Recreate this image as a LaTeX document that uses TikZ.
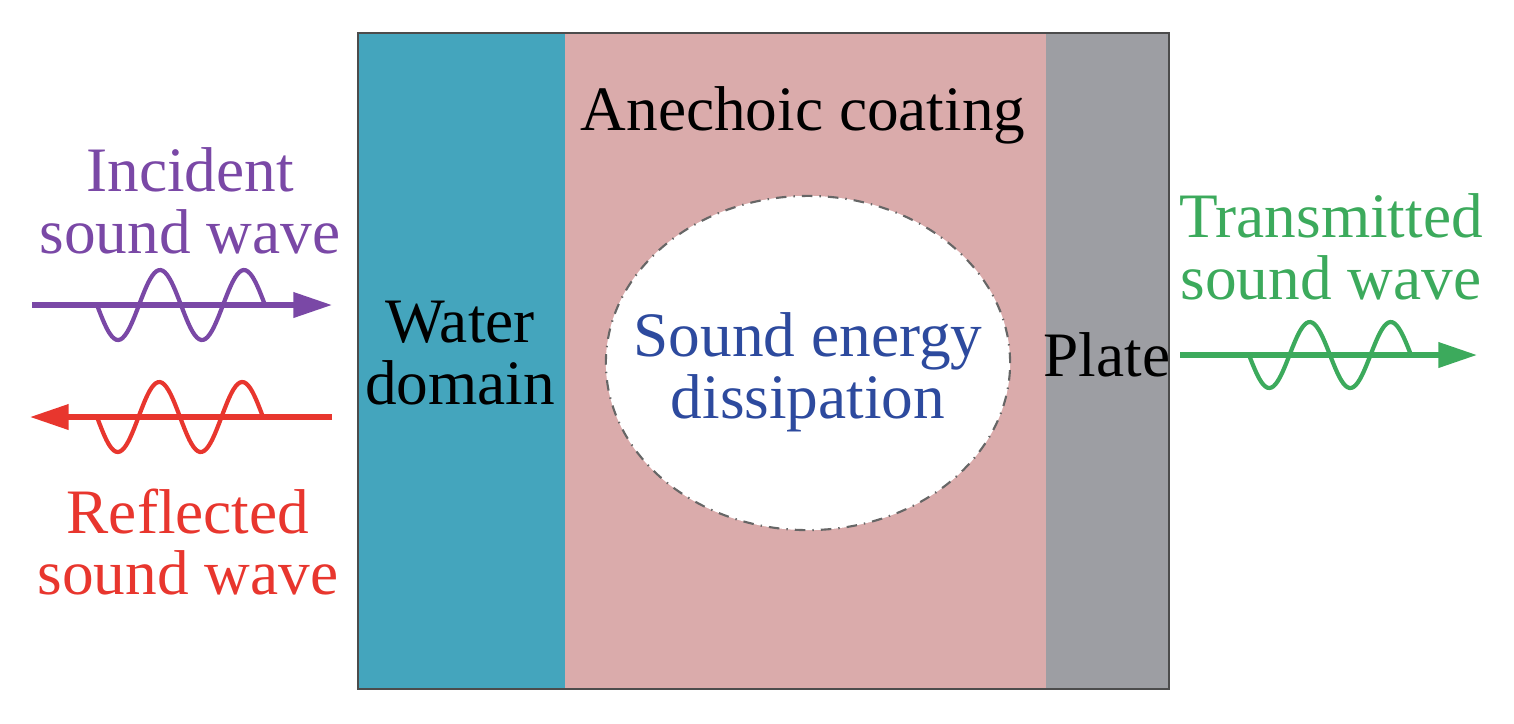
\documentclass[tikz,border=0pt]{standalone}
\usepackage{fontspec}
\setmainfont{Liberation Serif}
\usetikzlibrary{shapes.geometric,arrows.meta,positioning}

\definecolor{watercol}{RGB}{68,165,189}
\definecolor{coatcol}{RGB}{218,171,171}
\definecolor{platecol}{RGB}{157,158,163}
\definecolor{incol}{RGB}{122,72,166}
\definecolor{refcol}{RGB}{232,54,46}
\definecolor{transcol}{RGB}{60,170,92}
\definecolor{dissipcol}{RGB}{45,74,158}

\begin{document}
\begin{tikzpicture}[
    x=0.01cm, y=-0.01cm, % one unit = one pixel of the layout
    txt/.style={font=\fontsize{18}{17.5}\selectfont, align=center, inner sep=0pt},
    wavearrow/.style={-{Triangle[length=11pt,width=7pt]}, line width=1.5pt},
    wave/.style={line width=1.2pt}
]
    \useasboundingbox (0,0) rectangle (1514,723);

    % Layers
    \fill[watercol] (358,33) rectangle (565,689);
    \fill[coatcol] (565,33) rectangle (1046,689);
    \fill[platecol] (1046,33) rectangle (1169,689);
    \draw[black!70, line width=0.4pt] (358,33) rectangle (1169,689);

    % Nodes
    \node[ellipse, fill=white, draw=black!60, dash dot, line width=0.6pt, minimum width=4.04cm, minimum height=3.34cm, inner sep=0pt] (cavity) at (808,363) {};
    \node[txt, text=dissipcol] (dissip) at (808,372) {Sound energy\\dissipation};
    \node[txt, anchor=base] (coating) at (803,130) {Anechoic coating};
    \node[txt] (water) at (460,353) {Water\\domain};
    \node[txt, anchor=base] (plate) at (1107,376) {Plate};
    \node[txt, text=incol] (incident) at (190,201) {Incident\\sound wave};
    \node[txt, text=refcol] (reflected) at (188,542) {Reflected\\sound wave};
    \node[txt, text=transcol] (transmitted) at (1331,247) {Transmitted\\sound wave};

    \coordinate (inL) at (32,305);
    \coordinate (inR) at (332,305);
    \coordinate (refR) at (332,417);
    \coordinate (refL) at (30,417);
    \coordinate (trL) at (1180,355);
    \coordinate (trR) at (1477,355);

    % Connections
    \draw[wavearrow, incol] (inL) -- (inR);
    \draw[wave, incol] plot[domain=0:2, samples=80, smooth] ({97+84*\x},{305+35*sin(\x*360)});
    \draw[wavearrow, refcol] (refR) -- (refL);
    \draw[wave, refcol] plot[domain=0:2, samples=80, smooth] ({97+83*\x},{417+35*sin(\x*360)});
    \draw[wavearrow, transcol] (trL) -- (trR);
    \draw[wave, transcol] plot[domain=0:2, samples=80, smooth] ({1249+81*\x},{355+33*sin(\x*360)});
\end{tikzpicture}
\end{document}
